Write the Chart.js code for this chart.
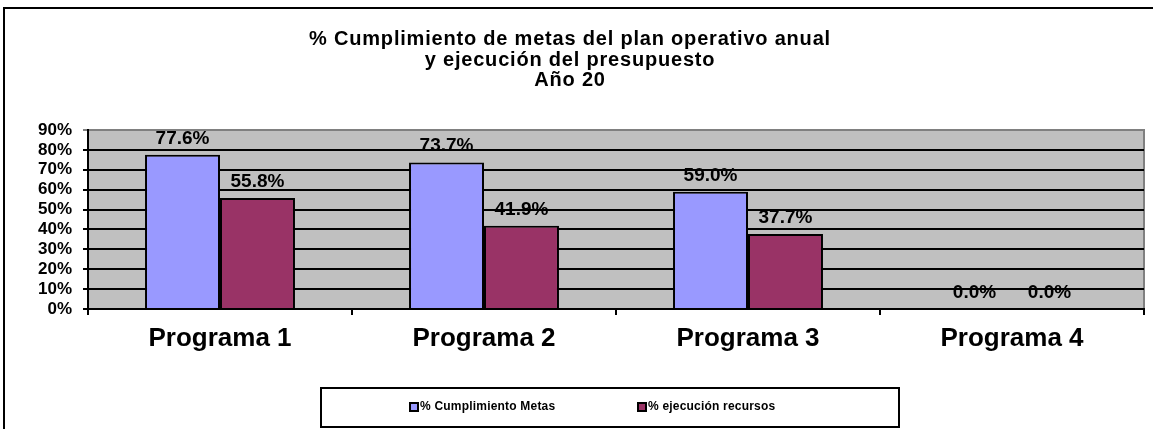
<!DOCTYPE html>
<html>
<head>
<meta charset="utf-8">
<script src="https://cdn.jsdelivr.net/npm/chart.js@4.4.1/dist/chart.umd.min.js"></script>
<style>
html,body{margin:0;padding:0;background:#fff;}
#wrap{position:relative;width:1153px;height:429px;}
</style>
</head>
<body>
<div id="wrap"><canvas id="c" width="1153" height="429"></canvas></div>
<script>
const categories = ['Programa 1', 'Programa 2', 'Programa 3', 'Programa 4'];
const seriesNames = ['% Cumplimiento Metas', '% ejecución recursos'];
const metas = [77.6, 73.7, 59.0, 0.0];
const recursos = [55.8, 41.9, 37.7, 0.0];
const yTickLabels = ['0%', '10%', '20%', '30%', '40%', '50%', '60%', '70%', '80%', '90%'];
const titleLines = ['% Cumplimiento de metas del plan operativo anual', 'y ejecución del presupuesto', 'Año 20'];

const FONT = '"Liberation Sans", Arial, sans-serif';

const decorPlugin = {
  id: 'decor',
  beforeDraw(chart) {
    const ctx = chart.ctx, a = chart.chartArea;
    ctx.save();
    ctx.fillStyle = '#fff';
    ctx.fillRect(0, 0, chart.width, chart.height);
    // outer border
    ctx.strokeStyle = '#000';
    ctx.lineWidth = 2;
    ctx.strokeRect(4, 8, chart.width + 10, chart.height + 10);
    // plot background
    ctx.fillStyle = '#C0C0C0';
    ctx.fillRect(a.left, a.top, a.right - a.left, a.bottom - a.top);
    ctx.strokeStyle = '#808080';
    ctx.lineWidth = 2;
    ctx.beginPath();
    ctx.moveTo(a.left, a.top);
    ctx.lineTo(a.right, a.top);
    ctx.lineTo(a.right, a.bottom);
    ctx.stroke();
    // data labels (drawn under gridlines like the reference)
    ctx.fillStyle = '#000';
    ctx.font = 'bold 19px ' + FONT;
    ctx.textAlign = 'center';
    ctx.textBaseline = 'alphabetic';
    chart.data.datasets.forEach((ds, i) => {
      const meta = chart.getDatasetMeta(i);
      meta.data.forEach((el, j) => {
        ctx.fillText(ds.data[j].toFixed(1) + '%', el.x, el.y - 11);
      });
    });
    // title
    ctx.font = 'bold 20px ' + FONT;
    try { ctx.letterSpacing = '0.8px'; } catch (e) {}
    ctx.textAlign = 'center';
    ctx.textBaseline = 'alphabetic';
    titleLines.forEach((t, i) => ctx.fillText(t, 570, 45 + i * 20.5));
    try { ctx.letterSpacing = '0px'; } catch (e) {}
    ctx.restore();
  },
  afterDraw(chart) {
    const ctx = chart.ctx;
    ctx.save();
    // legend box
    ctx.strokeStyle = '#000';
    ctx.lineWidth = 2;
    ctx.strokeRect(321, 388, 578, 39);
    const items = [{x: 410}, {x: 638}];
    ctx.font = 'bold 12px ' + FONT;
    try { ctx.letterSpacing = '0.2px'; } catch (e) {}
    ctx.textBaseline = 'middle';
    ctx.textAlign = 'left';
    chart.data.datasets.forEach((ds, i) => {
      const x = items[i].x, y = 407;
      ctx.fillStyle = ds.backgroundColor;
      ctx.fillRect(x, y - 4, 8, 8);
      ctx.lineWidth = 2;
      ctx.strokeStyle = '#000';
      ctx.strokeRect(x, y - 4, 8, 8);
      ctx.fillStyle = '#000';
      ctx.fillText(ds.label, x + 10, y);
    });
    try { ctx.letterSpacing = '0px'; } catch (e) {}
    ctx.restore();
  }
};

new Chart(document.getElementById('c'), {
  type: 'bar',
  data: {
    labels: categories,
    datasets: [
      {label: seriesNames[0], data: metas, backgroundColor: '#9999FF', borderColor: '#000', borderWidth: 2},
      {label: seriesNames[1], data: recursos, backgroundColor: '#993366', borderColor: '#000', borderWidth: 2}
    ]
  },
  options: {
    responsive: false,
    animation: false,
    devicePixelRatio: 1,
    layout: {padding: {top: 130, right: 9, bottom: 0, left: 0}},
    plugins: {legend: {display: false}, title: {display: false}, tooltip: {enabled: false}},
    datasets: {bar: {categoryPercentage: 0.568, barPercentage: 1.0}},
    scales: {
      x: {
        afterFit(s) { s.height = 120; },
        grid: {display: true, drawOnChartArea: false, drawTicks: true, tickLength: 6, color: '#000', lineWidth: 2},
        border: {display: true, color: '#000', width: 2},
        ticks: {color: '#000', font: {family: FONT, size: 26, weight: 'bold'}, padding: 8}
      },
      y: {
        min: 0, max: 90,
        afterFit(s) { s.width = 88; },
        ticks: {
          stepSize: 10, color: '#000', padding: 11, autoSkip: false,
          font: {family: FONT, size: 17, weight: 'bold'},
          callback: (v) => yTickLabels[Math.round(v / 10)]
        },
        grid: {
          color: (c) => (c.tick && c.tick.value === 90 ? '#808080' : '#000'),
          lineWidth: 2, tickLength: 5, drawTicks: true
        },
        border: {display: true, color: '#000', width: 2}
      }
    }
  },
  plugins: [decorPlugin]
});
</script>
</body>
</html>
